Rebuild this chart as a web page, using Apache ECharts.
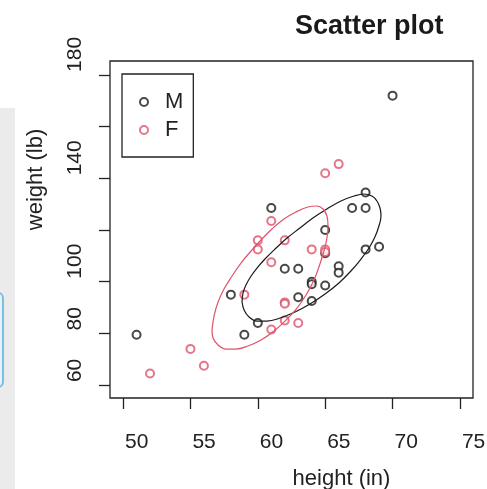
<!DOCTYPE html>
<html>
<head>
<meta charset="utf-8">
<script src="https://cdn.jsdelivr.net/npm/echarts@6/dist/echarts.min.js"></script>
<style>
  html, body { margin: 0; padding: 0; background: #fff; }
  #main { width: 487px; height: 489px; }
</style>
</head>
<body>
<div id="main"></div>
<script>
// height (in), weight (lb)
const maleData = [
  [70, 172], [51, 79.5], [68, 134.5], [67, 128.5], [68, 128.5], [61, 128.5],
  [65, 120], [68, 112.5], [69, 113.5], [65, 111], [66, 106], [66, 103.5],
  [62, 105], [63, 105], [64, 100], [64, 99], [65, 98.5], [58, 95],
  [63, 94], [64, 92.5], [60, 84], [59, 79.5]
]
const femaleData = [
  [65, 142], [66, 145.5], [61, 123.5], [60, 116], [60, 112.5], [62, 116],
  [64, 112.5], [65, 112.5], [65, 111.5], [61, 107.5], [59, 95], [62, 92],
  [62, 91.5], [62, 85], [63, 84], [61, 81.5], [55, 74], [56, 67.5], [52, 64.5]
]
// ellipse outlines
const maleEllipse = [
  [58.83, 92.13], [58.90, 95.62], [59.12, 98.71], [59.50, 102.2], [59.94, 105.3],
  [60.53, 108.78], [61.28, 112.65], [62.17, 116.91], [63.13, 120.78], [64.09, 124.65],
  [65.13, 128.14], [66.17, 131.24], [67.14, 133.17], [67.88, 133.94], [68.47, 133.17],
  [68.84, 131.24], [69.07, 128.53], [69.14, 125.43], [68.99, 121.56], [68.69, 117.3],
  [68.25, 113.04], [67.66, 108.78], [66.91, 104.13], [66.02, 99.49], [64.99, 95.23],
  [63.87, 91.36], [62.76, 88.26], [61.65, 85.94], [60.68, 84.78], [59.94, 84.78],
  [59.35, 86.33], [58.98, 89.04], [58.83, 92.13]
]
const femaleEllipse = [
  [56.60, 81.29], [56.75, 86.71], [57.05, 92.13], [57.49, 97.17], [58.09, 102.2],
  [58.75, 107.23], [59.50, 111.88], [60.24, 116.14], [61.05, 120.39], [61.94, 124.27],
  [62.83, 126.98], [63.72, 128.91], [64.39, 129.3], [64.84, 128.14], [65.13, 125.43],
  [65.21, 121.56], [65.13, 116.91], [64.91, 111.88], [64.61, 106.84], [64.17, 100.65],
  [63.58, 94.84], [62.91, 89.81], [62.09, 85.16], [61.20, 80.91], [60.24, 77.42],
  [59.27, 75.10], [58.38, 73.94], [57.64, 73.94], [57.05, 75.49], [56.68, 78.2],
  [56.60, 81.29]
]
const xTicks = [50, 55, 60, 65, 70, 75]
const yTicks = [60, 80, 100, 120, 140, 160, 180]
const yLabels = [60, 80, 100, 140, 180]

const black = '#1a1a1a'
const red = '#df536b'
const font = 'Liberation Sans, Arial, sans-serif'

const chart = echarts.init(document.getElementById('main'))
chart.setOption({
  animation: false,
  backgroundColor: '#fff',
  textStyle: { fontFamily: font, color: '#222' },
  title: {
    text: 'Scatter plot',
    left: 290,
    top: 8,
    textStyle: { fontFamily: font, fontSize: 27, fontWeight: 'bold', color: '#1a1a1a' }
  },
  graphic: [
    { type: 'rect', z: -10, shape: { x: 0, y: 108, width: 15, height: 381 }, style: { fill: '#ebebeb' } },
    { type: 'rect', z: -9, shape: { x: -10, y: 293, width: 13, height: 94, r: 5 }, style: { fill: '#e6f2fa', stroke: '#7cbfe3', lineWidth: 2 } }
  ],
  grid: {
    left: 110, right: 14, top: 61, bottom: 91,
    outerBoundsMode: 'none',
    show: true,
    borderColor: '#222',
    borderWidth: 1.3
  },
  legend: {
    data: ['M', 'F'],
    orient: 'vertical',
    left: 122,
    top: 74,
    padding: [14, 10, 13, 17],
    itemGap: 0,
    itemWidth: 8,
    itemHeight: 8,
    backgroundColor: '#fff',
    borderColor: '#222',
    borderWidth: 1.3,
    textStyle: { fontFamily: font, fontSize: 22, color: '#222', lineHeight: 28, padding: [0, 0, 0, 12] }
  },
  xAxis: {
    type: 'value',
    min: 49.03,
    max: 75.97,
    name: 'height (in)',
    nameLocation: 'middle',
    nameGap: 70,
    nameTextStyle: { fontFamily: font, fontSize: 22, color: '#222', padding: [0, 0, 0, 100] },
    axisLine: { show: false },
    splitLine: { show: false },
    axisTick: { show: true, length: 11, customValues: xTicks, lineStyle: { color: '#222', width: 1.3 } },
    axisLabel: {
      customValues: xTicks,
      fontFamily: font, fontSize: 21, color: '#222',
      margin: 34,
      align: 'left',
      padding: [0, 0, 0, 2]
    }
  },
  yAxis: {
    type: 'value',
    min: 55,
    max: 185.4,
    name: 'weight (lb)',
    nameLocation: 'middle',
    nameGap: 63,
    nameTextStyle: { fontFamily: font, fontSize: 22, color: '#222', padding: [0, 0, 0, 100] },
    axisLine: { show: false },
    splitLine: { show: false },
    axisTick: { show: true, length: 11, customValues: yTicks, lineStyle: { color: '#222', width: 1.3 } },
    axisLabel: {
      customValues: yLabels,
      fontFamily: font, fontSize: 21, color: '#222',
      rotate: 90,
      margin: 24,
      align: 'left',
      verticalAlign: 'bottom',
      padding: [0, 0, 0, 3]
    }
  },
  series: [
    {
      name: 'M ellipse', type: 'line', data: maleEllipse, smooth: 0.4,
      symbol: 'none', silent: true,
      lineStyle: { color: black, width: 1.2 }
    },
    {
      name: 'F ellipse', type: 'line', data: femaleEllipse, smooth: 0.4,
      symbol: 'none', silent: true,
      lineStyle: { color: red, width: 1.2 }
    },
    {
      name: 'M', type: 'scatter', data: maleData,
      symbol: 'emptyCircle', symbolSize: 8,
      itemStyle: { color: black, borderColor: black, borderWidth: 1.4 }
    },
    {
      name: 'F', type: 'scatter', data: femaleData,
      symbol: 'emptyCircle', symbolSize: 8,
      itemStyle: { color: red, borderColor: red, borderWidth: 1.4 }
    }
  ]
})
</script>
</body>
</html>
